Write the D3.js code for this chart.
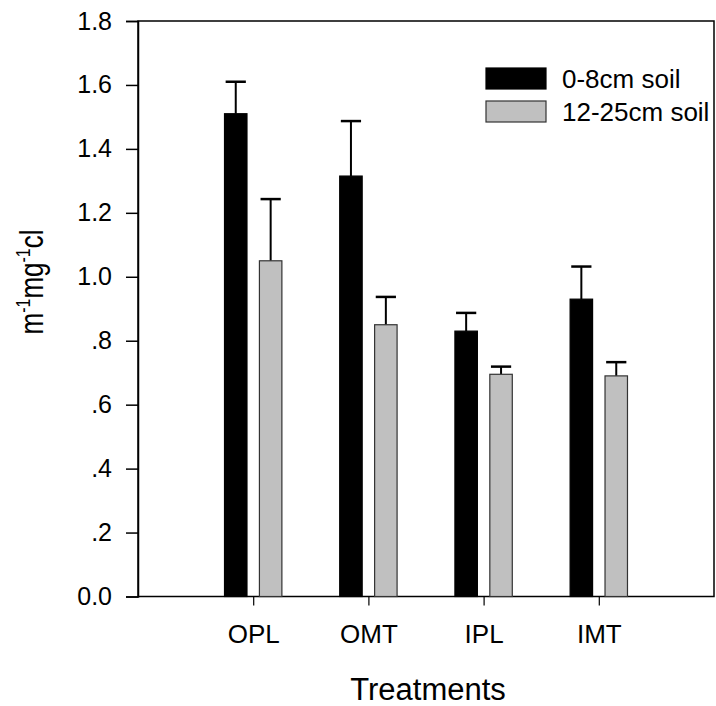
<!DOCTYPE html>
<html>
<head>
<meta charset="utf-8">
<script src="https://cdn.jsdelivr.net/npm/d3@7/dist/d3.min.js"></script>
<style>
  html, body { margin: 0; padding: 0; background: #fff; }
  svg { display: block; font-family: "Liberation Sans", Arial, sans-serif; }
</style>
</head>
<body>
<svg id="chart" width="716" height="706"></svg>
<script>
// Treatments and the two soil depths
const categories = ["OPL", "OMT", "IPL", "IMT"];
const shallowMeans = [1.51, 1.315, 0.83, 0.93];    // 0-8cm soil
const shallowErrors = [0.10, 0.172, 0.057, 0.102];
const deepMeans = [1.05, 0.85, 0.695, 0.69];       // 12-25cm soil
const deepErrors = [0.193, 0.087, 0.024, 0.043];
const seriesNames = ["0-8cm soil", "12-25cm soil"];
const yTicks = [0, 0.2, 0.4, 0.6, 0.8, 1.0, 1.2, 1.4, 1.6, 1.8];

const svg = d3.select("#chart");
const plotLeft = 138, plotRight = 714, plotTop = 21, plotBottom = 596.5;

const x = d3.scaleLinear().domain([0, 5]).range([plotLeft, plotRight]);
const y = d3.scaleLinear().domain([0, 1.8]).range([plotBottom, plotTop]);

const barW = 0.195, gap = 0.054;

const fmt = v => v === 0 ? "0.0" : (v < 1 ? d3.format(".1f")(v).replace(/^0/, "") : d3.format(".1f")(v));

// frame
svg.append("rect")
  .attr("x", plotLeft).attr("y", plotTop)
  .attr("width", plotRight - plotLeft).attr("height", plotBottom - plotTop)
  .attr("fill", "none").attr("stroke", "#000").attr("stroke-width", 1.5);

// y axis
const yAxis = svg.append("g")
  .attr("transform", `translate(${plotLeft},0)`)
  .call(d3.axisLeft(y).tickValues(yTicks).tickFormat(fmt).tickSize(12).tickPadding(14));
yAxis.select(".domain").attr("stroke-width", 1.5);
yAxis.selectAll(".tick line").attr("stroke-width", 1.5);
yAxis.selectAll("text").attr("font-size", 25).attr("fill", "#000");

// x axis
const xAxis = svg.append("g")
  .attr("transform", `translate(0,${plotBottom})`)
  .call(d3.axisBottom(x).tickValues([1, 2, 3, 4]).tickFormat(i => categories[i - 1]).tickSize(9).tickPadding(19));
xAxis.select(".domain").remove();
xAxis.selectAll(".tick line").attr("stroke-width", 1.2);
xAxis.selectAll("text").attr("font-size", 26).attr("fill", "#000");

// bars
const series = [
  { means: shallowMeans, errs: shallowErrors, offset: -gap - barW, fill: "#000", stroke: "#000" },
  { means: deepMeans, errs: deepErrors, offset: gap, fill: "#c0c0c0", stroke: "#333" }
];

series.forEach(s => {
  const g = svg.append("g");
  const data = categories.map((c, i) => ({ i: i + 1, v: s.means[i], e: s.errs[i] }));
  // error bars (upper only)
  g.selectAll("line.err").data(data).join("line").attr("class", "err")
    .attr("x1", d => x(d.i + s.offset + barW / 2)).attr("x2", d => x(d.i + s.offset + barW / 2))
    .attr("y1", d => y(d.v)).attr("y2", d => y(d.v + d.e))
    .attr("stroke", "#000").attr("stroke-width", 2);
  g.selectAll("line.cap").data(data).join("line").attr("class", "cap")
    .attr("x1", d => x(d.i + s.offset + barW * 0.05)).attr("x2", d => x(d.i + s.offset + barW * 0.95))
    .attr("y1", d => y(d.v + d.e)).attr("y2", d => y(d.v + d.e))
    .attr("stroke", "#000").attr("stroke-width", 2.5);
  g.selectAll("rect").data(data).join("rect")
    .attr("x", d => x(d.i + s.offset))
    .attr("width", d => x(d.i + s.offset + barW) - x(d.i + s.offset))
    .attr("y", d => y(d.v))
    .attr("height", d => y(0) - y(d.v))
    .attr("fill", s.fill).attr("stroke", s.stroke).attr("stroke-width", 1.2);
});

// legend
const legend = svg.append("g");
seriesNames.forEach((name, k) => {
  legend.append("rect")
    .attr("x", 486).attr("y", 68 + k * 33).attr("width", 60).attr("height", 21)
    .attr("fill", series[k].fill).attr("stroke", series[k].stroke).attr("stroke-width", 1.2);
  legend.append("text")
    .attr("x", 562).attr("y", 87.5 + k * 33)
    .attr("font-size", 26).attr("fill", "#000")
    .text(name);
});

// axis titles
svg.append("text")
  .attr("x", (plotLeft + plotRight) / 2 + 2).attr("y", 700)
  .attr("text-anchor", "middle").attr("font-size", 31).attr("fill", "#000")
  .text("Treatments");

const yt = svg.append("text")
  .attr("transform", "translate(43,282) rotate(-90) scale(1,1.3)")
  .attr("text-anchor", "middle").attr("font-size", 26).attr("fill", "#000");
yt.append("tspan").text("m");
yt.append("tspan").attr("font-size", 16).attr("dy", -10).text("-1");
yt.append("tspan").attr("dy", 10).text("mg");
yt.append("tspan").attr("font-size", 16).attr("dy", -10).text("-1");
yt.append("tspan").attr("dy", 10).text("cl");
</script>
</body>
</html>
